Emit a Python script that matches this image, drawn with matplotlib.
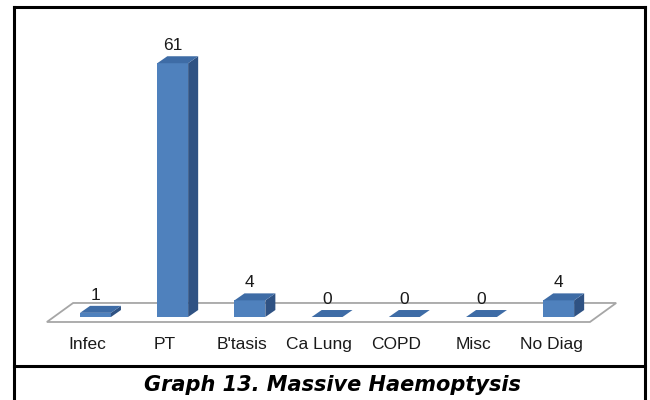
import matplotlib.pyplot as plt
from matplotlib.patches import Polygon
from matplotlib.lines import Line2D

# counts per diagnosis
categories = ['Infec', 'PT', "B'tasis", 'Ca Lung', 'COPD', 'Misc', 'No Diag']
counts = [1, 61, 4, 0, 0, 0, 4]
caption = 'Graph 13. Massive Haemoptysis'

# colours for the three visible faces of each bar
FRONT = '#4F81BD'
TOP = '#3E6CA6'
SIDE = '#2F5283'

# bar geometry in data units (x = category index, y = count)
half_w = 0.2
depth_x, depth_y = 0.13, 1.68

fig = plt.figure(figsize=(6.5, 4), dpi=100)
ax = fig.add_axes([0, 0, 1, 1])
ax.set_xlim(-1.237, 7.183)
ax.set_ylim(-19.95, 76.2)
ax.axis('off')

# floor of the 3d plot
n = len(categories)
floor_front = -1.2
floor_dx, floor_dy = 0.34, 4.57
left, right = -0.63, n - 1 + 0.405
floor = Polygon([(left, floor_front), (right, floor_front),
                 (right + floor_dx, floor_front + floor_dy),
                 (left + floor_dx, floor_front + floor_dy)],
                closed=True, facecolor='white', edgecolor='#A6A6A6',
                linewidth=1.3, zorder=1)
ax.add_patch(floor)

for i, v in enumerate(counts):
    x0, x1 = i - half_w, i + half_w
    front = [(x0, 0), (x1, 0), (x1, v), (x0, v)]
    side = [(x1, 0), (x1 + depth_x, depth_y), (x1 + depth_x, v + depth_y), (x1, v)]
    top = [(x0, v), (x1, v), (x1 + depth_x, v + depth_y), (x0 + depth_x, v + depth_y)]
    if v > 0:
        ax.add_patch(Polygon(front, closed=True, facecolor=FRONT, edgecolor='none', zorder=3))
        ax.add_patch(Polygon(side, closed=True, facecolor=SIDE, edgecolor='none', zorder=3))
    ax.add_patch(Polygon(top, closed=True, facecolor=TOP, edgecolor='none', zorder=3))
    ax.text(i, v + 4.2, str(v), ha='center', va='center', fontsize=12.5,
            family='Liberation Sans', color='#1A1A1A', zorder=4)
    ax.text(i - 0.1, -6.5, categories[i], ha='center', va='center', fontsize=12.5,
            family='Liberation Sans', color='#1A1A1A')

# frame around chart and caption cell
frame_kw = dict(color='black', linewidth=2.2, transform=fig.transFigure, solid_capstyle='projecting')
fig.add_artist(Line2D([14 / 650, 14 / 650], [0, 1 - 6.5 / 400], **frame_kw))
fig.add_artist(Line2D([645 / 650, 645 / 650], [0, 1 - 6.5 / 400], **frame_kw))
fig.add_artist(Line2D([14 / 650, 645 / 650], [1 - 6.5 / 400, 1 - 6.5 / 400], **frame_kw))
fig.add_artist(Line2D([14 / 650, 645 / 650], [1 - 365.5 / 400, 1 - 365.5 / 400], **frame_kw))

fig.text(332 / 650, 1 - 385 / 400, caption, ha='center', va='center', fontsize=15,
         fontweight='bold', fontstyle='italic', family='DejaVu Sans')

fig.savefig('out.png', dpi=100)
